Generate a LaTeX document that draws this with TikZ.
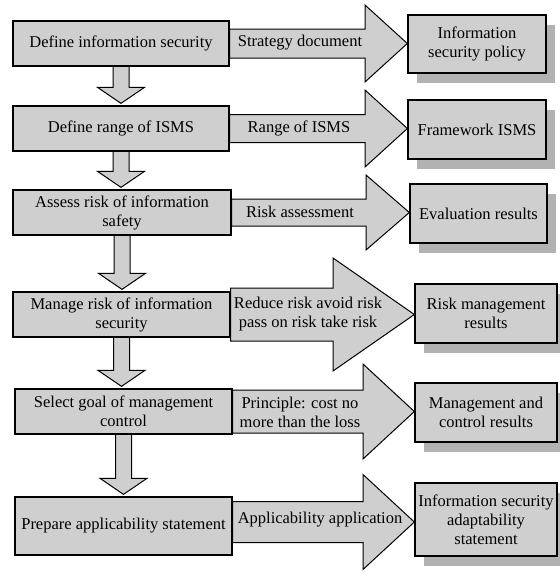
\documentclass[tikz,border=0pt]{standalone}
\usepackage{fontspec}
\setmainfont{Liberation Serif}
\usetikzlibrary{calc,shadows,backgrounds}
\definecolor{boxfill}{RGB}{207,207,207}
\definecolor{shadowgray}{RGB}{178,178,178}
\newcommand{\bigarr}[6]{% left, right, shaft half, head half, head base x, y shift
  \draw[bigarrow] let \p1=($(#1.east)+(0,#6)$), \p2=(#2.west) in
  (\x1,\y1+#3pt) -- (#5pt,\y1+#3pt) -- (#5pt,\y1+#4pt) -- (\x2,\y1) --
  (#5pt,\y1-#4pt) -- (#5pt,\y1-#3pt) -- (\x1,\y1-#3pt) -- cycle;}
\newcommand{\downarr}[2]{%
  \draw[bigarrow] let \p1=(#1.south), \p2=(#2.north) in
  (\x1-8pt,\y1) -- (\x1-8pt,\y2+18pt) -- (\x1-23.5pt,\y2+18pt) -- (\x1,\y2+2pt) --
  (\x1+23.5pt,\y2+18pt) -- (\x1+8pt,\y2+18pt) -- (\x1+8pt,\y1);}
\begin{document}
\begin{tikzpicture}[x=1pt,y=-1pt,
  txt/.style={font=\fontsize{16.5}{19}\selectfont},
  lbox/.style={txt,draw,line width=1.3pt,fill=boxfill,align=center,inner sep=0pt},
  rbox/.style={lbox,drop shadow={shadow xshift=9pt,shadow yshift=-10pt,fill=shadowgray,opacity=1}},
  bigarrow/.style={draw,line width=1pt,fill=boxfill,line join=miter},
  lbl/.style={txt,align=center,inner sep=0pt}]
\useasboundingbox (0,0) rectangle (560,571);
% left column
\node[lbox,minimum width=216,minimum height=45] (L1) at (121,43.5) {Define information security};
\node[lbox,minimum width=216,minimum height=45] (L2) at (121,128.5) {Define range of ISMS};
\node[lbox,minimum width=218,minimum height=45] (L3) at (122,212.5) {Assess risk of information\\safety};
\node[lbox,minimum width=217,minimum height=45] (L4) at (121.5,314.5) {Manage risk of information\\security};
\node[lbox,minimum width=217,minimum height=45] (L5) at (123.5,411.5) {Select goal of management\\control};
\node[lbox,minimum width=217,minimum height=58] (L6) at (123.5,526) {Prepare applicability statement};
% right column
\node[rbox,minimum width=138,minimum height=58] (R1) at (477,44) {Information\\security policy};
\node[rbox,minimum width=138,minimum height=59] (R2) at (477,129.5) {Framework ISMS};
\node[rbox,minimum width=137,minimum height=59] (R3) at (478.5,213.5) {Evaluation results};
\node[rbox,minimum width=142,minimum height=59] (R4) at (486,313.5) {Risk management\\results};
\node[rbox,minimum width=142,minimum height=59] (R5) at (486,412.5) {Management and\\control results};
\node[rbox,minimum width=142,minimum height=73] (R6) at (486,519.5) {Information security\\adaptability\\statement};
\begin{scope}[on background layer]
  \bigarr{L1}{R1}{14.5}{38.5}{365}{0}
  \bigarr{L2}{R2}{14}{38.5}{365}{0}
  \bigarr{L3}{R3}{13.5}{37.5}{366}{0}
  \bigarr{L4}{R4}{26.5}{56.5}{333}{0}
  \bigarr{L5}{R5}{21.5}{47.5}{363}{0}
  \bigarr{L6}{R6}{20.5}{47.5}{363}{-4}
  \downarr{L1}{L2}
  \downarr{L2}{L3}
  \downarr{L3}{L4}
  \downarr{L4}{L5}
  \downarr{L5}{L6}
\end{scope}
% arrow labels
\node[lbl] (t1) at (300,43) {Strategy document};
\node[lbl] (t2) at (299,128) {Range of ISMS};
\node[lbl] (t3) at (300,212) {Risk assessment};
\node[lbl] (t4) at (308,314) {Reduce risk avoid risk\\pass on risk take risk};
\node[lbl] (t5) at (300,412) {Principle: cost no\\more than the loss};
\node[lbl] (t6) at (320,520) {Applicability application};
\end{tikzpicture}
\end{document}
